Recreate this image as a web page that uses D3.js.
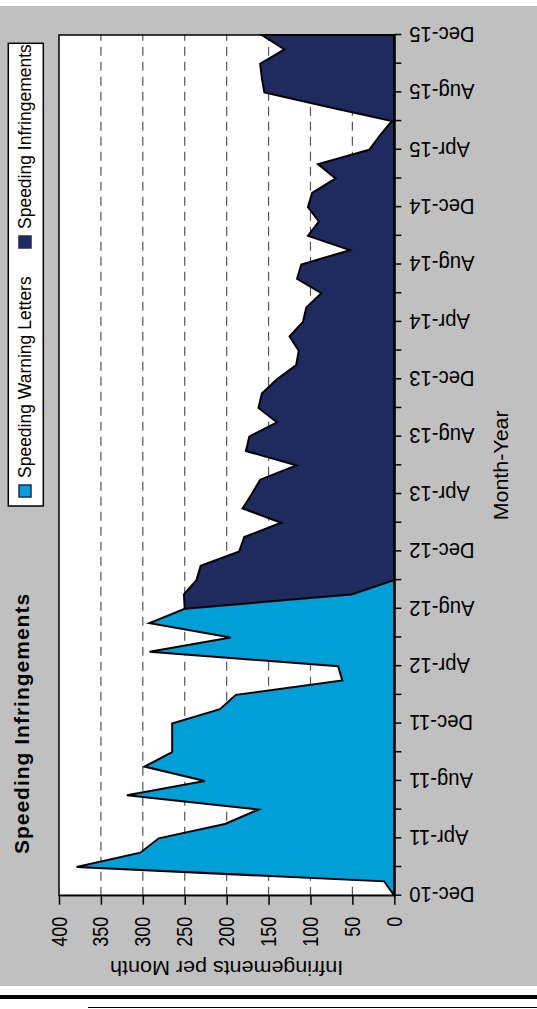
<!DOCTYPE html>
<html><head><meta charset="utf-8">
<script src="https://cdn.jsdelivr.net/npm/d3@7"></script>
<style>
body{margin:0;background:#fff}
svg{display:block}
text{font-family:"Liberation Sans",Arial,sans-serif;fill:#000}
</style>
</head><body>
<svg id="c" width="537" height="1009"></svg>
<script>
const months = ["Dec-10","Jan-11","Feb-11","Mar-11","Apr-11","May-11","Jun-11","Jul-11","Aug-11","Sep-11","Oct-11","Nov-11",
"Dec-11","Jan-12","Feb-12","Mar-12","Apr-12","May-12","Jun-12","Jul-12","Aug-12","Sep-12","Oct-12","Nov-12",
"Dec-12","Jan-13","Feb-13","Mar-13","Apr-13","May-13","Jun-13","Jul-13","Aug-13","Sep-13","Oct-13","Nov-13",
"Dec-13","Jan-14","Feb-14","Mar-14","Apr-14","May-14","Jun-14","Jul-14","Aug-14","Sep-14","Oct-14","Nov-14",
"Dec-14","Jan-15","Feb-15","Mar-15","Apr-15","May-15","Jun-15","Jul-15","Aug-15","Sep-15","Oct-15","Nov-15","Dec-15"];
const warningLetters = [0,12,379,303,281,202,162,319,226,298,265,265,
265,208,189,62,67,292,195,292,250,51,0,0,
0,0,0,0,0,0,0,0,0,0,0,0,
0,0,0,0,0,0,0,0,0,0,0,0,
0,0,0,0,0,0,0,0,0,0,0,0,0];
const infringements = [0,0,0,0,0,0,0,0,0,0,0,0,
0,0,0,0,0,0,0,0,250,251,236,231,
185,179,135,181,170,160,117,177,173,140,162,158,
140,117,114,125,109,105,87,116,111,53,103,90,
103,98,70,91,30,17,3,80,155,158,160,131,158];
const valueTicks = [0,50,100,150,200,250,300,350,400];
const gridValues = [50,100,150,200,250,300,350];
const labelMonths = ["Dec-10","Apr-11","Aug-11","Dec-11","Apr-12","Aug-12","Dec-12","Apr-13","Aug-13","Dec-13","Apr-14","Aug-14","Dec-14","Apr-15","Aug-15","Dec-15"];
const seriesNames = ["Speeding Warning Letters","Speeding Infringements"];
const colors = {"Speeding Warning Letters":"#009fd7","Speeding Infringements":"#1f2a5e"};

const svg = d3.select("#c");
// page rules below the chart
svg.append("line").attr("x1",0).attr("x2",537).attr("y1",997).attr("y2",997).attr("stroke","#000").attr("stroke-width",4);
svg.append("line").attr("x1",88).attr("x2",537).attr("y1",1007.5).attr("y2",1007.5).attr("stroke","#000").attr("stroke-width",1);

// chart drawn in its own (landscape) frame, then rotated -90deg onto the page
const g = svg.append("g").attr("transform","translate(0,1009) rotate(-90)");
g.append("rect").attr("x",23).attr("y",0).attr("width",980).attr("height",537).attr("fill","#c0c0c0");

const L=113.3, R=974, T=59, B=394.3;
const x = d3.scalePoint().domain(months).range([L,R]);
const y = d3.scaleLinear().domain([0,400]).range([B,T]);

g.append("rect").attr("x",L).attr("y",T).attr("width",R-L).attr("height",B-T).attr("fill","#fff");
g.selectAll(".grid").data(gridValues).join("line").attr("class","grid")
 .attr("x1",L).attr("x2",R).attr("y1",d=>y(d)).attr("y2",d=>y(d))
 .attr("stroke","#555").attr("stroke-width",1.2).attr("stroke-dasharray","9,6");

const area = vals => d3.area().x((d,i)=>x(months[i])).y0(y(0)).y1(d=>y(d))(vals);
g.append("path").attr("d",area(infringements)).attr("fill",colors["Speeding Infringements"]).attr("stroke","#000").attr("stroke-width",2).attr("stroke-linejoin","miter");
g.append("path").attr("d",area(warningLetters)).attr("fill",colors["Speeding Warning Letters"]).attr("stroke","#000").attr("stroke-width",2).attr("stroke-linejoin","miter");

g.append("rect").attr("x",L).attr("y",T).attr("width",R-L).attr("height",B-T).attr("fill","none").attr("stroke","#000").attr("stroke-width",1.5);

// condensed text helper (tick labels in the source are slightly narrow)
function condense(sel, factor){
  sel.each(function(){
    const len = this.getComputedTextLength();
    if(len>0){ d3.select(this).attr("textLength",len*factor).attr("lengthAdjust","spacingAndGlyphs"); }
  });
}

// value axis
const ya = g.append("g").attr("transform",`translate(${L},0)`)
 .call(d3.axisLeft(y).tickValues(valueTicks).tickSize(9).tickPadding(12).tickSizeOuter(0));
ya.select(".domain").attr("stroke","#000").attr("stroke-width",1.5);
ya.selectAll(".tick line").attr("stroke","#000").attr("stroke-width",1.5);
ya.selectAll(".tick text").attr("font-size",22).call(condense,0.82);

// category axis
const xa = g.append("g").attr("transform",`translate(0,${B})`)
 .call(d3.axisBottom(x).tickValues(months.filter((d,i)=>i%2===0)).tickSize(7).tickSizeOuter(0)
   .tickFormat(d=>labelMonths.includes(d)?d:""));
xa.select(".domain").attr("stroke","#000").attr("stroke-width",1.5);
xa.selectAll(".tick line").attr("stroke","#000").attr("stroke-width",1.5);
xa.selectAll(".tick text").attr("font-size",22)
 .attr("transform","rotate(-90)").attr("text-anchor","end").attr("x",-15).attr("y",0).attr("dy","0.35em")
 .call(condense,0.92);

// titles
g.append("text").attr("x",285.5).attr("y",28.5).attr("text-anchor","middle")
 .attr("font-size",21).attr("font-weight","bold").attr("letter-spacing",1).text("Speeding Infringements");
g.append("text").attr("transform",`translate(48,${(T+B)/2}) rotate(-90)`).attr("text-anchor","middle")
 .attr("font-size",20).attr("textLength",233).attr("lengthAdjust","spacingAndGlyphs").text("Infringements per Month");
g.append("text").attr("x",(L+R)/2).attr("y",507.5).attr("text-anchor","middle")
 .attr("font-size",20).attr("textLength",110).attr("lengthAdjust","spacingAndGlyphs").text("Month-Year");

// legend
const lg = g.append("g");
lg.append("rect").attr("x",503).attr("y",8.3).attr("width",462.7).attr("height",35).attr("fill","#fff").attr("stroke","#000").attr("stroke-width",1.5);
const legendX = [512, 761];
seriesNames.forEach((s,k)=>{
  lg.append("rect").attr("x",legendX[k]).attr("y",19).attr("width",12).attr("height",12)
    .attr("fill",colors[s]).attr("stroke","#1f2a5e").attr("stroke-width",1.5);
  lg.append("text").attr("x",legendX[k]+19).attr("y",30.5).attr("font-size",17.5).text(s);
});
</script>
</body></html>
